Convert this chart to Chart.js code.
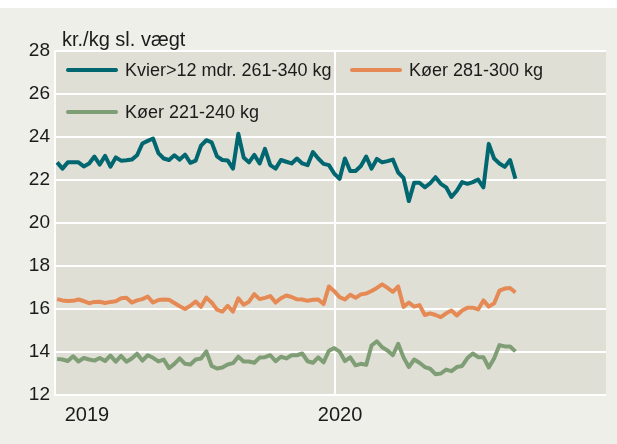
<!DOCTYPE html>
<html>
<head>
<meta charset="utf-8">
<script src="https://cdn.jsdelivr.net/npm/chart.js@4"></script>
<style>
  body { margin: 0; background: #fff; }
  #wrap { position: absolute; left: 0; top: 8px; width: 617px; height: 436px; background: #efefe9;
          font-family: 'Liberation Sans', Arial, sans-serif; color: #1b1b1b; }
  #unit { position: absolute; left: 62px; top: 20px; font-size: 20px; }
  .leg { position: absolute; font-size: 18px; display: flex; align-items: center; white-space: nowrap; height: 20px; }
  .leg i { display: inline-block; width: 52px; height: 4px; margin-right: 7px; border-radius: 2px; }
  canvas { position: absolute; left: 0; top: 0; }
</style>
</head>
<body>
<div id="wrap">
  <canvas id="chart" width="617" height="436"></canvas>
  <div id="unit">kr./kg sl. vægt</div>
  <div class="leg" style="left:66px;top:52px"><i style="background:#006670"></i>Kvier&gt;12 mdr. 261-340 kg</div>
  <div class="leg" style="left:350px;top:52px"><i style="background:#e58a55"></i>Køer 281-300 kg</div>
  <div class="leg" style="left:66px;top:94px"><i style="background:#7f9e75"></i>Køer 221-240 kg</div>
</div>
<script>
// weekly prices, first week of 2019 to late Aug 2020
const kvier = [
  22.82, 22.53, 22.82, 22.82, 22.82, 22.63, 22.77, 23.09, 22.72, 23.12,
  22.62, 23.05, 22.90, 22.92, 22.95, 23.15, 23.70, 23.82, 23.93, 23.25,
  23.00, 22.93, 23.15, 22.95, 23.18, 22.80, 22.90, 23.60, 23.85, 23.75,
  23.10, 22.93, 22.91, 22.53, 24.15, 23.05, 22.82, 23.17, 22.77, 23.45,
  22.69, 22.53, 22.93, 22.85, 22.77, 23.00, 22.77, 22.69, 23.30, 23.00,
  22.75, 22.69, 22.30, 22.05, 23.00, 22.42, 22.42, 22.65, 23.09, 22.53,
  22.98, 22.82, 22.88, 22.95, 22.35, 22.10, 21.02, 21.87, 21.87, 21.66,
  21.85, 22.13, 21.82, 21.66, 21.21, 21.50, 21.90, 21.82, 21.90, 22.02,
  21.66, 23.68, 23.00, 22.77, 22.61, 22.93, 22.06
];
const koer281 = [
  16.46, 16.40, 16.37, 16.38, 16.44, 16.37, 16.27, 16.33, 16.34, 16.28,
  16.33, 16.36, 16.50, 16.52, 16.30, 16.40, 16.46, 16.58, 16.30, 16.42,
  16.44, 16.43, 16.28, 16.13, 16.00, 16.15, 16.35, 16.10, 16.53, 16.30,
  15.97, 15.88, 16.14, 15.88, 16.50, 16.20, 16.34, 16.69, 16.46, 16.52,
  16.60, 16.30, 16.50, 16.63, 16.56, 16.45, 16.44, 16.38, 16.43, 16.44,
  16.23, 17.05, 16.83, 16.55, 16.44, 16.66, 16.52, 16.68, 16.72, 16.84,
  16.98, 17.15, 16.98, 16.80, 17.05, 16.10, 16.30, 16.11, 16.18, 15.72,
  15.80, 15.72, 15.62, 15.80, 15.93, 15.70, 15.93, 16.06, 16.06, 15.98,
  16.40, 16.11, 16.26, 16.85, 16.95, 16.98, 16.77
];
const koer221 = [
  13.68, 13.65, 13.58, 13.80, 13.56, 13.72, 13.65, 13.60, 13.72, 13.58,
  13.83, 13.55, 13.82, 13.55, 13.70, 13.92, 13.60, 13.85, 13.73, 13.56,
  13.65, 13.25, 13.45, 13.70, 13.45, 13.42, 13.65, 13.70, 14.03, 13.35,
  13.23, 13.28, 13.42, 13.48, 13.78, 13.56, 13.56, 13.50, 13.74, 13.76,
  13.85, 13.57, 13.78, 13.70, 13.85, 13.85, 13.93, 13.57, 13.50, 13.75,
  13.52, 14.06, 14.18, 14.02, 13.58, 13.75, 13.38, 13.45, 13.40, 14.30,
  14.50, 14.22, 14.07, 13.85, 14.38, 13.75, 13.30, 13.65, 13.50, 13.30,
  13.22, 12.97, 13.00, 13.18, 13.11, 13.30, 13.35, 13.72, 13.93, 13.76,
  13.76, 13.28, 13.70, 14.32, 14.26, 14.26, 14.03
];
const yearLabels = ['2019', '2020'];

const toPoints = (arr) => arr.map((v, i) => ({ x: i, y: v }));

const plotBg = {
  id: 'plotBg',
  beforeDraw(chart) {
    const { ctx, chartArea: a } = chart;
    ctx.save();
    ctx.fillStyle = '#e0dfd5';
    ctx.fillRect(a.left, a.top, a.right - a.left, a.bottom - a.top);
    ctx.restore();
  },
};

const line = (data, color) => ({
  data: toPoints(data),
  borderColor: color,
  borderWidth: 4,
  pointRadius: 0,
  tension: 0,
  borderJoinStyle: 'round',
});

new Chart(document.getElementById('chart'), {
  type: 'line',
  data: {
    datasets: [
      line(kvier, '#006670'),
      line(koer281, '#e58a55'),
      line(koer221, '#7f9e75'),
    ],
  },
  options: {
    responsive: false,
    animation: false,
    layout: { padding: { top: 43, right: 11, left: 0, bottom: 0 } },
    plugins: { legend: { display: false }, tooltip: { enabled: false } },
    scales: {
      x: {
        type: 'linear',
        min: -0.4,
        max: 103,
        afterBuildTicks: (s) => { s.ticks = [{ value: 5.6 }, { value: 52.1 }, { value: 53.1 }]; },
        afterFit: (s) => { s.height = 49; },
        ticks: {
          autoSkip: false,
          maxRotation: 0,
          padding: 8,
          color: '#1b1b1b',
          font: { family: 'Liberation Sans', size: 20 },
          callback: (v) => (v === 5.6 ? yearLabels[0] : v === 53.1 ? yearLabels[1] : ''),
        },
        grid: {
          drawTicks: false,
          lineWidth: 2,
          color: (c) => (c.tick && c.tick.value === 52.1 ? '#ffffff' : 'rgba(0,0,0,0)'),
        },
        border: { display: false },
      },
      y: {
        min: 12,
        max: 28,
        afterFit: (s) => { s.width = 55; },
        ticks: {
          stepSize: 2,
          padding: 5,
          color: '#1b1b1b',
          font: { family: 'Liberation Sans', size: 19 },
        },
        grid: { color: '#ffffff', lineWidth: 2, drawTicks: false },
        border: { color: '#ffffff', width: 2 },
      },
    },
  },
  plugins: [plotBg],
});
</script>
</body>
</html>
